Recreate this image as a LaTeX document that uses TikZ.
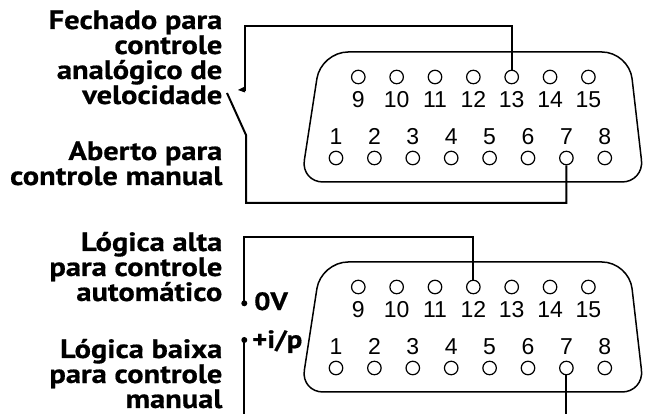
\documentclass[tikz,border=0pt]{standalone}
\usepackage{fontspec}
\setmainfont{Liberation Sans}
\newfontfamily\lblfont{PT Sans}[FakeStretch=1.15,FakeBold=0.6]
\newfontfamily\numfont{Liberation Sans}
\newcommand{\tightls}{\lineskiplimit=-30pt\relax}
\newcommand{\dsubconn}[1]{%
  \draw[shell] (475,52) [rounded corners=27pt] -- (629,52) [rounded corners=22pt] -- (644,182) -- (301,182) [rounded corners=27pt] -- (321,52) -- cycle;
  \foreach \i in {9,...,15}{
    \node[pinc] (#1\i) at ({358.3+38.35*(\i-9)},77) {};
    \node[num] (#1n\i) at ({358.3+38.35*(\i-9)},108) {\i};
  }
  \foreach \i in {1,...,8}{
    \node[pinc] (#1\i) at ({336+38.4*(\i-1)},158) {};
    \node[num] (#1n\i) at ({336+38.4*(\i-1)},145) {\i};
  }
}
\begin{document}
\begin{tikzpicture}[x=1pt,y=-1pt,
  pinc/.style={circle,draw,line width=1.2pt,minimum size=13.5pt,inner sep=0pt},
  num/.style={font=\numfont\fontsize{23}{25}\selectfont,anchor=base,inner sep=0pt},
  lbl/.style={font=\lblfont\bfseries\fontsize{26.5}{25}\selectfont\tightls,align=right,anchor=base east,inner sep=0pt},
  tag/.style={font=\lblfont\bfseries\fontsize{25}{25}\selectfont,anchor=base west,inner sep=0pt},
  wire/.style={line width=2pt},
  shell/.style={line width=1.5pt},
  dot/.style={circle,fill,inner sep=0pt,minimum size=6pt}]
\clip (0,0) rectangle (649,414);
\fill[white] (0,0) rectangle (649,414);
% top panel
\dsubconn{a}
\node[lbl] (la) at (222.5,104) {Fechado para\\controle\\analógico de\\velocidade};
\node[lbl] (lb) at (222.5,185) {Aberto para\\controle manual};
\coordinate (tl) at (245,26);
\coordinate (c1) at (245,91);
\coordinate (b1) at (227,93);
\coordinate (b2) at (246,135);
\coordinate (bl) at (246,203);
\draw[wire] (a13.north) -- (a13.north |- tl) -- (tl) -- (c1);
\fill (245,86.5) -- (238,90) -- (245,92.5) -- cycle;
\draw[wire] (b1) -- (b2) -- (bl) -- (bl -| a7.south) -- (a7.south);
% bottom panel
\begin{scope}[shift={(0,210)}]
\dsubconn{b}
\end{scope}
\node[lbl] (lc) at (222.5,301) {Lógica alta\\para controle\\automático};
\node[lbl] (ld) at (222.5,408) {Lógica baixa\\para controle\\manual};
\coordinate (tl2) at (244.3,237);
\node[dot] (d0) at (244.3,303.3) {};
\node[dot] (d1) at (244.3,340) {};
\coordinate (bl2) at (244.3,420);
\draw[wire] (b12.north) -- (b12.north |- tl2) -- (tl2) -- (d0.center);
\draw[wire] (d1.center) -- (bl2) -- (bl2 -| b7.south) -- (b7.south);
\node[tag] (t0) at (254,310) {0V};
\node[tag] (t1) at (252,348) {+i/p};
\end{tikzpicture}
\end{document}
